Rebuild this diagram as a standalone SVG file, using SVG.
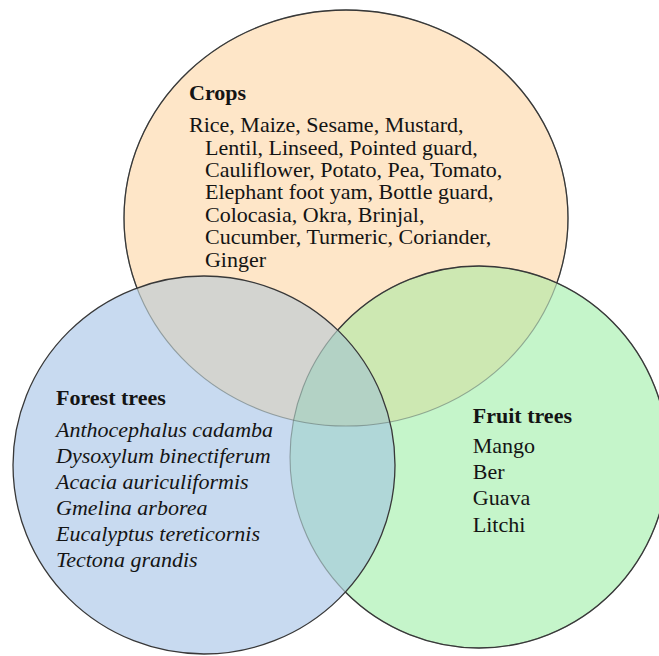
<svg xmlns="http://www.w3.org/2000/svg" width="659" height="656" viewBox="0 0 659 656">
<style>
  .t { font-family: "Liberation Serif", "Times New Roman", serif; font-size: 20.3px; fill: #141414; }
  .h { font-weight: bold; }
  .i { font-style: italic; }
  .edge { fill: none; stroke: #383838; stroke-width: 1.3; }
  .faint { fill: none; stroke: #5f6d6a; stroke-width: 1.1; stroke-opacity: 0.55; }
</style>
<defs>
  <clipPath id="cO"><ellipse cx="346" cy="218" rx="222" ry="208"/></clipPath>
  <clipPath id="cG"><ellipse cx="479" cy="457" rx="189" ry="191"/></clipPath>
  <mask id="mO" maskUnits="userSpaceOnUse" x="0" y="0" width="659" height="656">
    <rect x="0" y="0" width="659" height="656" fill="#fff"/>
    <ellipse cx="479" cy="457" rx="189" ry="191" fill="#000"/>
    <ellipse cx="204" cy="465" rx="191" ry="189" fill="#000"/>
  </mask>
  <mask id="mG" maskUnits="userSpaceOnUse" x="0" y="0" width="659" height="656">
    <rect x="0" y="0" width="659" height="656" fill="#fff"/>
    <ellipse cx="204" cy="465" rx="191" ry="189" fill="#000"/>
  </mask>
</defs>
<rect x="0" y="0" width="659" height="656" fill="#ffffff"/>

<g id="crops">
  <ellipse cx="346" cy="218" rx="222" ry="208" fill="#FEE6C8"/>
</g>

<g id="fruit-trees">
  <ellipse cx="479" cy="457" rx="189" ry="191" fill="#C5F5CA"/>
  <ellipse cx="479" cy="457" rx="189" ry="191" fill="#CDE8B2" clip-path="url(#cO)"/>
</g>

<g id="forest-trees">
  <ellipse cx="204" cy="465" rx="191" ry="189" fill="#C8DAF0"/>
  <ellipse cx="204" cy="465" rx="191" ry="189" fill="#D3D4D0" clip-path="url(#cO)"/>
  <ellipse cx="204" cy="465" rx="191" ry="189" fill="#B0D7D8" clip-path="url(#cG)"/>
  <g clip-path="url(#cO)">
    <ellipse cx="204" cy="465" rx="191" ry="189" fill="#B3D2C5" clip-path="url(#cG)"/>
  </g>
</g>

<g id="outlines">
  <ellipse class="faint" cx="346" cy="218" rx="222" ry="208"/>
  <ellipse class="faint" cx="479" cy="457" rx="189" ry="191"/>
  <ellipse class="edge" cx="346" cy="218" rx="222" ry="208" mask="url(#mO)"/>
  <ellipse class="edge" cx="479" cy="457" rx="189" ry="191" mask="url(#mG)"/>
  <ellipse class="edge" cx="204" cy="465" rx="191" ry="189"/>
</g>

<g id="crops-label" transform="scale(1.085 1)">
  <text class="t h" x="174.2" y="100">Crops</text>
  <text class="t" x="174.2" y="132.3">Rice, Maize, Sesame, Mustard,</text>
  <text class="t" x="188.9" y="154.7">Lentil, Linseed, Pointed guard,</text>
  <text class="t" x="188.9" y="177.1">Cauliflower, Potato, Pea, Tomato,</text>
  <text class="t" x="188.9" y="199.5">Elephant foot yam, Bottle guard,</text>
  <text class="t" x="188.9" y="221.9">Colocasia, Okra, Brinjal,</text>
  <text class="t" x="188.9" y="244.3">Cucumber, Turmeric, Coriander,</text>
  <text class="t" x="188.9" y="266.7">Ginger</text>
</g>

<g id="forest-trees-label" transform="scale(1.085 1)">
  <text class="t h" x="51.6" y="405">Forest trees</text>
  <text class="t i" x="51.6" y="436.7">Anthocephalus cadamba</text>
  <text class="t i" x="51.6" y="462.7">Dysoxylum binectiferum</text>
  <text class="t i" x="51.6" y="488.7">Acacia auriculiformis</text>
  <text class="t i" x="51.6" y="514.7">Gmelina arborea</text>
  <text class="t i" x="51.6" y="540.7">Eucalyptus tereticornis</text>
  <text class="t i" x="51.6" y="566.7">Tectona grandis</text>
</g>

<g id="fruit-trees-label" transform="scale(1.085 1)">
  <text class="t h" x="435.7" y="422.7">Fruit trees</text>
  <text class="t" x="435.7" y="453.3">Mango</text>
  <text class="t" x="435.7" y="479.4">Ber</text>
  <text class="t" x="435.7" y="505.5">Guava</text>
  <text class="t" x="435.7" y="531.6">Litchi</text>
</g>
</svg>
